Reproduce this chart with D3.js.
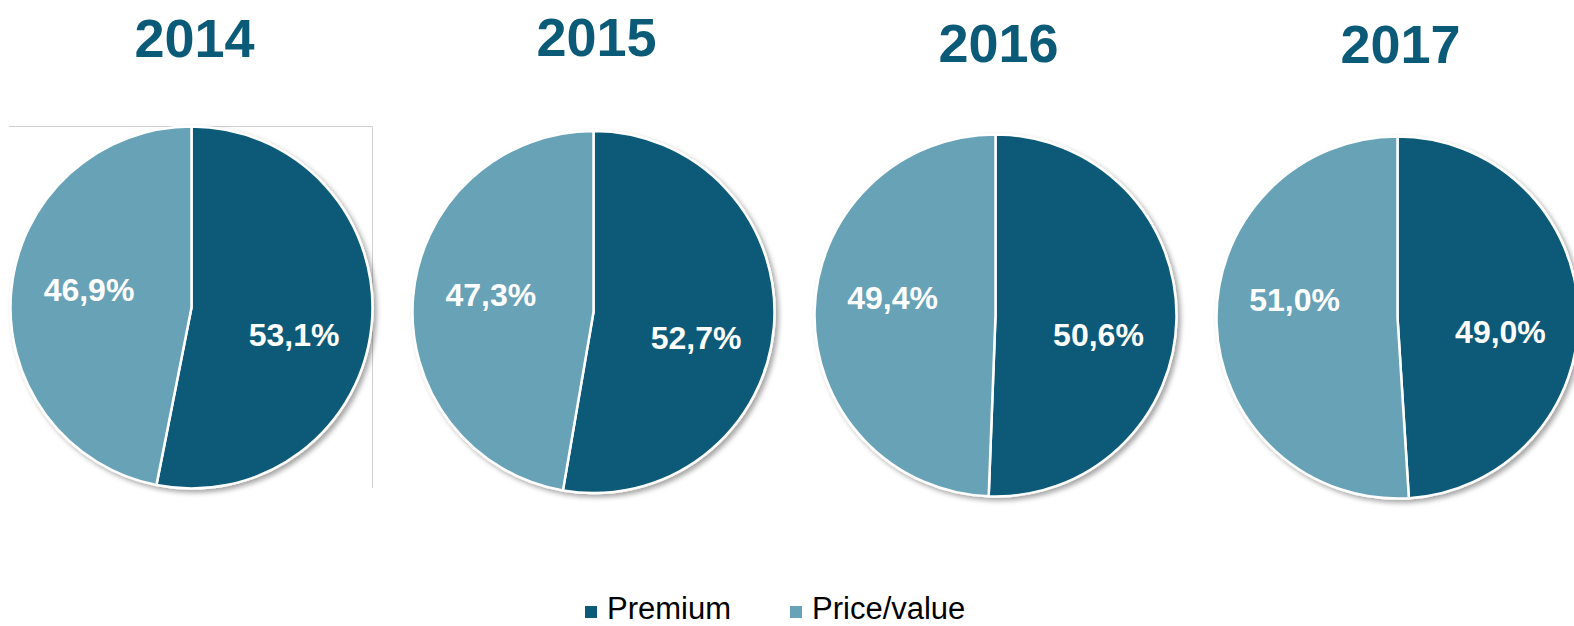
<!DOCTYPE html>
<html>
<head>
<meta charset="utf-8">
<script src="https://cdn.jsdelivr.net/npm/d3@7"></script>
<style>
  html, body { margin: 0; padding: 0; background: #fff; }
  #canvas { width: 1574px; height: 626px; overflow: hidden; }
  text { font-family: Arial, "Liberation Sans", sans-serif; }
</style>
</head>
<body>
<div id="canvas"></div>
<script>
// Data
var years = ['2014', '2015', '2016', '2017'];
var premium = [53.1, 52.7, 50.6, 49.0];
var priceValue = [46.9, 47.3, 49.4, 51.0];
var seriesNames = ['Premium', 'Price/value'];
var colors = ['#0a5a78', '#67a2b6'];

// Layout
var width = 1574, height = 626;
var radius = 181;
var pieCy = [307.5, 312, 315.5, 317.5];
var titleY = [57, 56, 62, 63];

var svg = d3.select('#canvas').append('svg')
  .attr('width', width)
  .attr('height', height);

var defs = svg.append('defs');
var shadow = defs.append('filter')
  .attr('id', 'shadow')
  .attr('x', '-10%').attr('y', '-10%')
  .attr('width', '125%').attr('height', '125%');
shadow.append('feDropShadow')
  .attr('dx', 3).attr('dy', 3)
  .attr('stdDeviation', 2.5)
  .attr('flood-color', '#000')
  .attr('flood-opacity', 0.35);

var x = d3.scalePoint()
  .domain(years)
  .range([191.5, 1397.5]);

var pie = d3.pie().sort(null).value(function(d) { return d; });
var arc = d3.arc().innerRadius(0).outerRadius(radius);
var labelArc = d3.arc().innerRadius(103).outerRadius(103);
var fmt = function(v) { return d3.format('.1f')(v).replace('.', ',') + '%'; };

// frame around the first pie (left over from the original sheet)
var f0 = x(years[0]);
svg.append('path')
  .attr('d', 'M' + (f0 - 182.5) + ',126.5H' + (f0 + 181) + 'V488')
  .attr('fill', 'none')
  .attr('stroke', '#d0d0d0')
  .attr('stroke-width', 1);

years.forEach(function(year, i) {
  var cx = x(year), cy = pieCy[i];

  svg.append('text')
    .attr('x', cx + 3)
    .attr('y', titleY[i])
    .attr('text-anchor', 'middle')
    .attr('font-size', 54)
    .attr('font-weight', 'bold')
    .attr('fill', colors[0])
    .text(year);

  var g = svg.append('g')
    .attr('transform', 'translate(' + cx + ',' + cy + ')');

  var slices = pie([premium[i], priceValue[i]]);

  g.append('g')
    .attr('filter', 'url(#shadow)')
    .selectAll('path')
    .data(slices)
    .enter().append('path')
    .attr('d', arc)
    .attr('fill', function(d, j) { return colors[j]; })
    .attr('stroke', '#fff')
    .attr('stroke-width', 2.5)
    .attr('stroke-linejoin', 'round');

  g.selectAll('text.lbl')
    .data(slices)
    .enter().append('text')
    .attr('class', 'lbl')
    .attr('x', function(d) { return labelArc.centroid(d)[0]; })
    .attr('y', function(d, j) {
      var c = labelArc.centroid(d);
      return j === 0 ? c[1] + 17 : -18;
    })
    .attr('dy', '0.36em')
    .attr('text-anchor', 'middle')
    .attr('font-size', 32)
    .attr('font-weight', 'bold')
    .attr('fill', '#fff')
    .text(function(d) { return fmt(d.data); });
});

// Legend
var legend = svg.append('g').attr('transform', 'translate(585,619)');
var legendX = [0, 205];
seriesNames.forEach(function(name, j) {
  var item = legend.append('g').attr('transform', 'translate(' + legendX[j] + ',0)');
  item.append('rect')
    .attr('x', 0).attr('y', -13)
    .attr('width', 12).attr('height', 12)
    .attr('fill', colors[j]);
  item.append('text')
    .attr('x', 22).attr('y', 0)
    .attr('font-size', 31)
    .attr('fill', '#000')
    .text(name);
});
</script>
</body>
</html>
